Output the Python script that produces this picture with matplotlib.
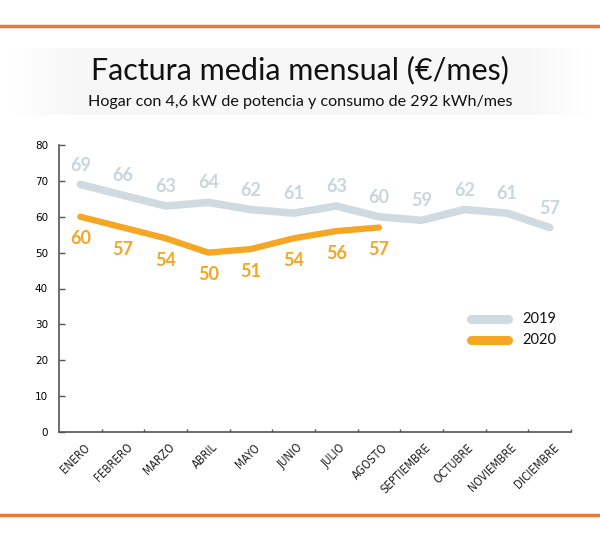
import numpy as np
from matplotlib import pyplot as plt
from matplotlib.lines import Line2D

# Data
months = ['ENERO', 'FEBRERO', 'MARZO', 'ABRIL', 'MAYO', 'JUNIO', 'JULIO',
          'AGOSTO', 'SEPTIEMBRE', 'OCTUBRE', 'NOVIEMBRE', 'DICIEMBRE']
bill_2019 = [69, 66, 63, 64, 62, 61, 63, 60, 59, 62, 61, 57]
bill_2020 = [60, 57, 54, 50, 51, 54, 56, 57]
yticks = [0, 10, 20, 30, 40, 50, 60, 70, 80]

c2019 = '#d0dbe1'
c2019_txt = '#cad5dc'
c2020 = '#f5a623'
orange_rule = '#e8793a'

plt.rcParams['font.family'] = ['Lato', 'DejaVu Sans']

fig = plt.figure(figsize=(6, 5.42), dpi=100)

# orange rules top and bottom
fig.add_artist(Line2D([0, 1], [1 - 26 / 542, 1 - 26 / 542], color=orange_rule, lw=2.5))
fig.add_artist(Line2D([0, 1], [1 - 515 / 542, 1 - 515 / 542], color=orange_rule, lw=2.5))

# light title band with faded edges
band = fig.add_axes([10 / 600, 1 - 115 / 542, 583 / 600, 67 / 542])
g = np.linspace(0, 1, 300)
fade = np.clip(np.minimum(g, 1 - g) * 10, 0, 1)
band.imshow(fade[None, :], cmap='Greys', vmin=0, vmax=17, aspect='auto')
band.axis('off')

fig.text(0.5, 1 - 70 / 542, 'Factura media mensual (€/mes)', ha='center', va='center',
         fontsize=22, color='#111111')
fig.text(0.5, 1 - 102 / 542, 'Hogar con 4,6 kW de potencia y consumo de 292 kWh/mes',
         ha='center', va='center', fontsize=11.6, color='#111111')

ax = fig.add_axes([59 / 600, 1 - 432 / 542, 512 / 600, 287 / 542])
x19 = np.arange(len(bill_2019))
x20 = np.arange(len(bill_2020))

ax.plot(x19, bill_2019, color=c2019, lw=5.5, solid_capstyle='round', clip_on=False)
ax.plot(x20, bill_2020, color=c2020, lw=4.5, solid_capstyle='round', clip_on=False)

for xi, v in zip(x19, bill_2019):
    ax.annotate(str(v), (xi, v), xytext=(0, 14), textcoords='offset points',
                ha='center', va='center', fontsize=13, fontweight='bold',
                color=c2019_txt, annotation_clip=False)
for xi, v in zip(x20, bill_2020):
    ax.annotate(str(v), (xi, v), xytext=(0, -16), textcoords='offset points',
                ha='center', va='center', fontsize=13, fontweight='bold',
                color=c2020, annotation_clip=False)

ax.set_xlim(-0.5, len(months) - 0.5)
ax.set_ylim(0, 80)
ax.set_yticks(yticks)
ax.set_yticklabels([str(t) for t in yticks], fontsize=7.5, family='DejaVu Sans')

# ticks sit on the category boundaries, labels at category centres
ax.set_xticks(np.arange(len(months)) + 0.5)
ax.set_xticklabels([])
for i, m in enumerate(months):
    ax.annotate(m, (i, 0), xytext=(2, -6.5), textcoords='offset points',
                rotation=45, ha='right', va='top', rotation_mode='anchor',
                fontsize=8.3, family='DejaVu Sans', fontstretch='condensed',
                color='#222222', annotation_clip=False)

for s in ['top', 'right']:
    ax.spines[s].set_visible(False)
for s in ['left', 'bottom']:
    ax.spines[s].set_color('#555555')
    ax.spines[s].set_linewidth(1.2)
ax.tick_params(axis='y', direction='in', length=4.5, width=1, color='#555555', pad=8)
ax.tick_params(axis='x', direction='in', length=2, width=1, color='#555555')

# legend
for yy, col, lab in [(319, c2019, '2019'), (340, c2020, '2020')]:
    fy = 1 - yy / 542
    fig.add_artist(Line2D([471 / 600, 508 / 600], [fy, fy], color=col, lw=6.5,
                          solid_capstyle='round'))
    fig.text(522 / 600, fy, lab, ha='left', va='center', fontsize=10.5, color='#111111')

fig.savefig('out.png', dpi=100)
